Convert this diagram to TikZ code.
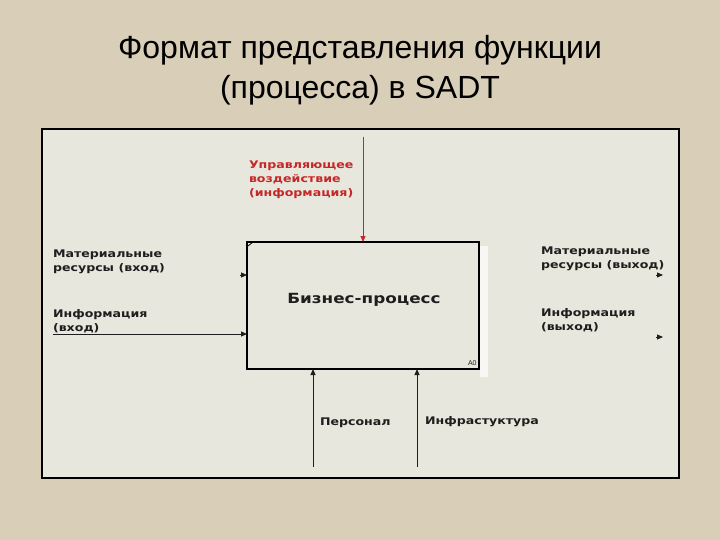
\documentclass[tikz,border=0pt]{standalone}
\usepackage{fontspec}
\setmainfont{Liberation Sans}
\newfontfamily\lblfont[FakeStretch=1.2]{DejaVu Sans}
\usetikzlibrary{arrows.meta}

\definecolor{cd9cfb8}{RGB}{217,207,184}
\definecolor{ce8e7dd}{RGB}{232,231,221}
\definecolor{cc42828}{RGB}{196,40,40}
\definecolor{c1e1e1e}{RGB}{30,30,30}
\definecolor{cffffff}{RGB}{255,255,255}

\begin{document}
\begin{tikzpicture}[y=1pt, x=1pt, yscale=-1, inner sep=0pt, outer sep=0pt,
  lbl/.style={font={\lblfont\bfseries\fontsize{10.5}{14}\selectfont},
    text=c1e1e1e, align=left, anchor=west},
  arr/.style={draw=c1e1e1e, line width=1pt,
    -{Triangle[length=6pt,width=5pt]}},
  ctl/.style={arr, draw=cc42828, fill=cc42828}]
  % sheet and panel
  \path[fill=cd9cfb8] (0,0) rectangle (720,540);
  \path[draw=black,fill=ce8e7dd,line width=1.2pt] (42,129) rectangle (679,478);
  \path[fill=black] (360,70) node[align=center,
    font={\fontsize{32}{40}\selectfont}] (text3001) {Формат представления функции\\(процесса) в SADT};

  % function block
  \path[fill=cffffff,fill opacity=0.7] (480,246) rectangle (488,377);
  \node[draw=black,line width=1.2pt,minimum width=232pt,minimum height=127pt]
    (rect3003) at (363,305.5) {};
  \path[draw=black,line width=0.8pt] (rect3003.north west) ++(1,4) -- ++(5,-4);
  \path[fill=black] (364,300) node[font={\lblfont\bfseries\fontsize{14}{16}\selectfont},
    text=c1e1e1e] (text3005) {Бизнес-процесс};
  \path[fill=black] (468,363) node[anchor=west,font={\fontsize{7}{8}\selectfont},
    text=c1e1e1e] (text3007) {A0};

  % control
  \coordinate (ctlsrc) at (363,137);
  \path[ctl] (ctlsrc) -- (rect3003.north);
  \path[fill=black] (249,180) node[lbl,text=cc42828] (text3009)
    {Управляющее\\воздействие\\(информация)};

  % inputs
  \coordinate (matin) at (240,275);
  \path[arr] (matin) -- (matin -| rect3003.west);
  \path[fill=black] (53,262) node[lbl] (text3011) {Материальные\\ресурсы (вход)};
  \coordinate (infin) at (53,334);
  \path[arr] (infin) -- (infin -| rect3003.west);
  \path[fill=black] (53,321) node[lbl] (text3013) {Информация\\(вход)};

  % outputs
  \coordinate (matout) at (656,275);
  \coordinate (matoutend) at (663,275);
  \path[arr] (matout) -- (matoutend);
  \path[fill=black] (541,259) node[lbl] (text3015) {Материальные\\ресурсы (выход)};
  \coordinate (infout) at (656,337);
  \coordinate (infoutend) at (663,337);
  \path[arr] (infout) -- (infoutend);
  \path[fill=black] (541,320) node[lbl] (text3017) {Информация\\(выход)};

  % mechanisms
  \coordinate (persrc) at (313,467);
  \path[arr] (persrc) -- (persrc |- rect3003.south);
  \path[fill=black] (320,423) node[lbl] (text3019) {Персонал};
  \coordinate (infrsrc) at (417,467);
  \path[arr] (infrsrc) -- (infrsrc |- rect3003.south);
  \path[fill=black] (425,422) node[lbl] (text3021) {Инфрастуктура};
\end{tikzpicture}
\end{document}
